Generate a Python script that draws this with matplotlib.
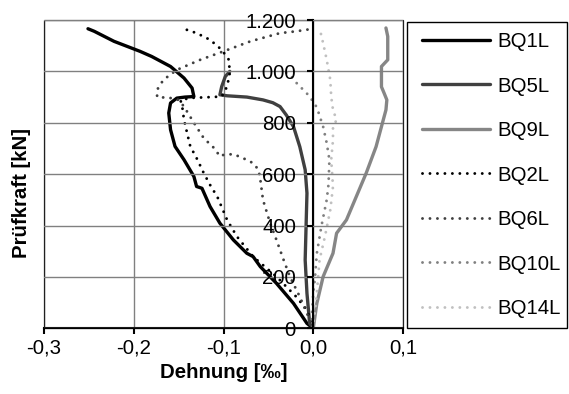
import matplotlib
matplotlib.use("Agg")
import matplotlib.pyplot as plt
from matplotlib.patches import Rectangle
from matplotlib.ticker import FuncFormatter

plt.rcParams["font.family"] = ["Liberation Sans", "DejaVu Sans"]

# Strain [‰] and test load [kN] for each gauge
bq1l_strain = [0, -0.007, -0.022, -0.041, -0.059, -0.067, -0.074, -0.089, -0.104, -0.115,
               -0.124, -0.130, -0.133, -0.144, -0.154, -0.159, -0.161, -0.159, -0.152, -0.143,
               -0.133, -0.135, -0.144, -0.159, -0.180, -0.193, -0.222, -0.244, -0.251]
bq1l_force = [0, 19, 97, 175, 240, 279, 292, 344, 409, 474,
              545, 552, 591, 656, 708, 773, 838, 877, 896, 900,
              902, 935, 974, 1019, 1058, 1078, 1117, 1156, 1166]

bq5l_strain = [0, -0.004, -0.007, -0.009, -0.008, -0.007, -0.009, -0.015, -0.022, -0.030,
               -0.037, -0.045, -0.056, -0.074, -0.096, -0.104, -0.102, -0.098, -0.093]
bq5l_force = [0, 19, 136, 266, 396, 526, 617, 707, 785, 830,
              863, 878, 889, 900, 905, 909, 941, 980, 1000]

bq9l_strain = [0, 0.004, 0.011, 0.022, 0.026, 0.037, 0.048, 0.059, 0.070, 0.078,
               0.081, 0.082, 0.079, 0.076, 0.076, 0.083, 0.083, 0.081]
bq9l_force = [0, 97, 201, 292, 370, 422, 513, 604, 707, 811,
              850, 889, 915, 940, 1019, 1045, 1136, 1169]

bq2l_strain = [0, -0.007, -0.019, -0.041, -0.067, -0.085, -0.096, -0.107, -0.114, -0.122,
               -0.129, -0.137, -0.144, -0.146, -0.148, -0.135, -0.120, -0.102, -0.096, -0.093,
               -0.094, -0.102, -0.115, -0.130, -0.141]
bq2l_force = [0, 71, 123, 201, 279, 357, 422, 513, 552, 604,
              656, 708, 811, 863, 889, 897, 899, 902, 941, 993,
              1045, 1084, 1123, 1149, 1162]

bq6l_strain = [0, -0.007, -0.015, -0.026, -0.033, -0.041, -0.048, -0.056, -0.059, -0.061,
               -0.067, -0.078, -0.089, -0.100, -0.104, -0.110, -0.122, -0.133, -0.144, -0.150,
               -0.160, -0.174, -0.174, -0.167, -0.152, -0.126, -0.100, -0.070, -0.037, -0.019,
               -0.002]
bq6l_force = [0, 58, 123, 201, 266, 344, 409, 500, 580, 617,
              643, 662, 678, 675, 669, 700, 740, 800, 863, 889,
              897, 900, 928, 967, 1006, 1045, 1078, 1117, 1149, 1156,
              1165]

bq10l_strain = [-0.030, -0.026, -0.017, -0.010, -0.004, 0.004, 0.011, 0.015, 0.018, 0.017,
                0.015, 0.009, 0.004, 0.002, 0.000, -0.002, 0]
bq10l_force = [995, 987, 948, 925, 902, 860, 785, 721, 656, 560,
               500, 396, 292, 200, 136, 19, 0]

bq14l_strain = [0, 0.000, 0.004, 0.007, 0.013, 0.019, 0.022, 0.020, 0.022, 0.022,
                0.026, 0.022, 0.020, 0.019, 0.015, 0.011, 0.007]
bq14l_force = [0, 6, 136, 266, 357, 461, 552, 656, 733, 785,
               811, 850, 902, 967, 1045, 1110, 1169]

x_ticks = [-0.3, -0.2, -0.1, 0.0, 0.1]
y_ticks = [0, 200, 400, 600, 800, 1000, 1200]

FS = 14.7
W, H = 569, 394
fig = plt.figure(figsize=(W / 100, H / 100), dpi=100)
ax = fig.add_axes([44 / W, 1 - 328.3 / H, (403 - 44) / W, (328.3 - 20) / H])

solid = dict(linestyle="-", linewidth=2.4, solid_joinstyle="round", solid_capstyle="round")
dotted = dict(linestyle=(0, (0.01, 2.55)), linewidth=2.1, dash_capstyle="round")

ax.plot(bq1l_strain, bq1l_force, color="#000000", label="BQ1L", zorder=3, **solid)
ax.plot(bq5l_strain, bq5l_force, color="#404040", label="BQ5L", zorder=3, **solid)
ax.plot(bq9l_strain, bq9l_force, color="#868686", label="BQ9L", zorder=3, **solid)
ax.plot(bq2l_strain, bq2l_force, color="#000000", label="BQ2L", zorder=3, **dotted)
ax.plot(bq6l_strain, bq6l_force, color="#404040", label="BQ6L", zorder=3, **dotted)
ax.plot(bq10l_strain, bq10l_force, color="#808080", label="BQ10L", zorder=3, **dotted)
ax.plot(bq14l_strain, bq14l_force, color="#c0c0c0", label="BQ14L", zorder=3, **dotted)

ax.set_xlim(-0.3, 0.1)
ax.set_ylim(0, 1200)
ax.set_xticks(x_ticks)
ax.set_yticks(y_ticks)
ax.xaxis.set_major_formatter(FuncFormatter(lambda v, p: f"{v:.1f}".replace("-0.0", "0.0").replace(".", ",")))
ax.yaxis.set_major_formatter(FuncFormatter(lambda v, p: f"{int(round(v)):,}".replace(",", ".")))

ax.grid(True, color="#808080", linewidth=1.0, zorder=1)
ax.set_axisbelow(True)

# value axis crosses at strain 0
ax.spines["left"].set_position(("data", 0))
ax.spines["left"].set_linewidth(1.5)
ax.spines["bottom"].set_linewidth(1.5)
ax.spines["top"].set_visible(False)
ax.spines["right"].set_visible(False)
ax.spines["left"].set_zorder(4)
ax.spines["bottom"].set_zorder(4)

# plot-area frame
ax.add_patch(Rectangle((0, 0), 1, 1, transform=ax.transAxes, fill=False,
                       edgecolor="#202020", linewidth=0.9, zorder=2.5, clip_on=False))

ax.tick_params(axis="x", direction="out", length=4.5, width=1.5, pad=3, labelsize=FS)
ax.tick_params(axis="y", direction="out", length=4.5, width=1.5, pad=8, labelsize=FS)
for lab in ax.get_yticklabels():
    lab.set_zorder(6)
ax.yaxis.set_zorder(5)

fig.text(223.5 / W, 1 - 372 / H, "Dehnung [‰]", ha="center", va="center",
         fontsize=FS, fontweight="bold")
fig.text(22 / W, 1 - 193 / H, "Prüfkraft [kN]", ha="center", va="center",
         rotation=90, fontsize=FS, fontweight="bold")

# legend box
fig.patches.append(Rectangle((407 / W, 1 - 328 / H), 160 / W, 306 / H,
                             transform=fig.transFigure, fill=False,
                             edgecolor="#000000", linewidth=1.0))
leg = ax.legend(loc="upper left", bbox_to_anchor=(421.7 / W, 1 - 32 / H),
                bbox_transform=fig.transFigure, frameon=False, borderpad=0,
                borderaxespad=0, handlelength=3.35, handletextpad=0.34,
                labelspacing=1.25, fontsize=FS)

fig.savefig("out.png", dpi=100)
